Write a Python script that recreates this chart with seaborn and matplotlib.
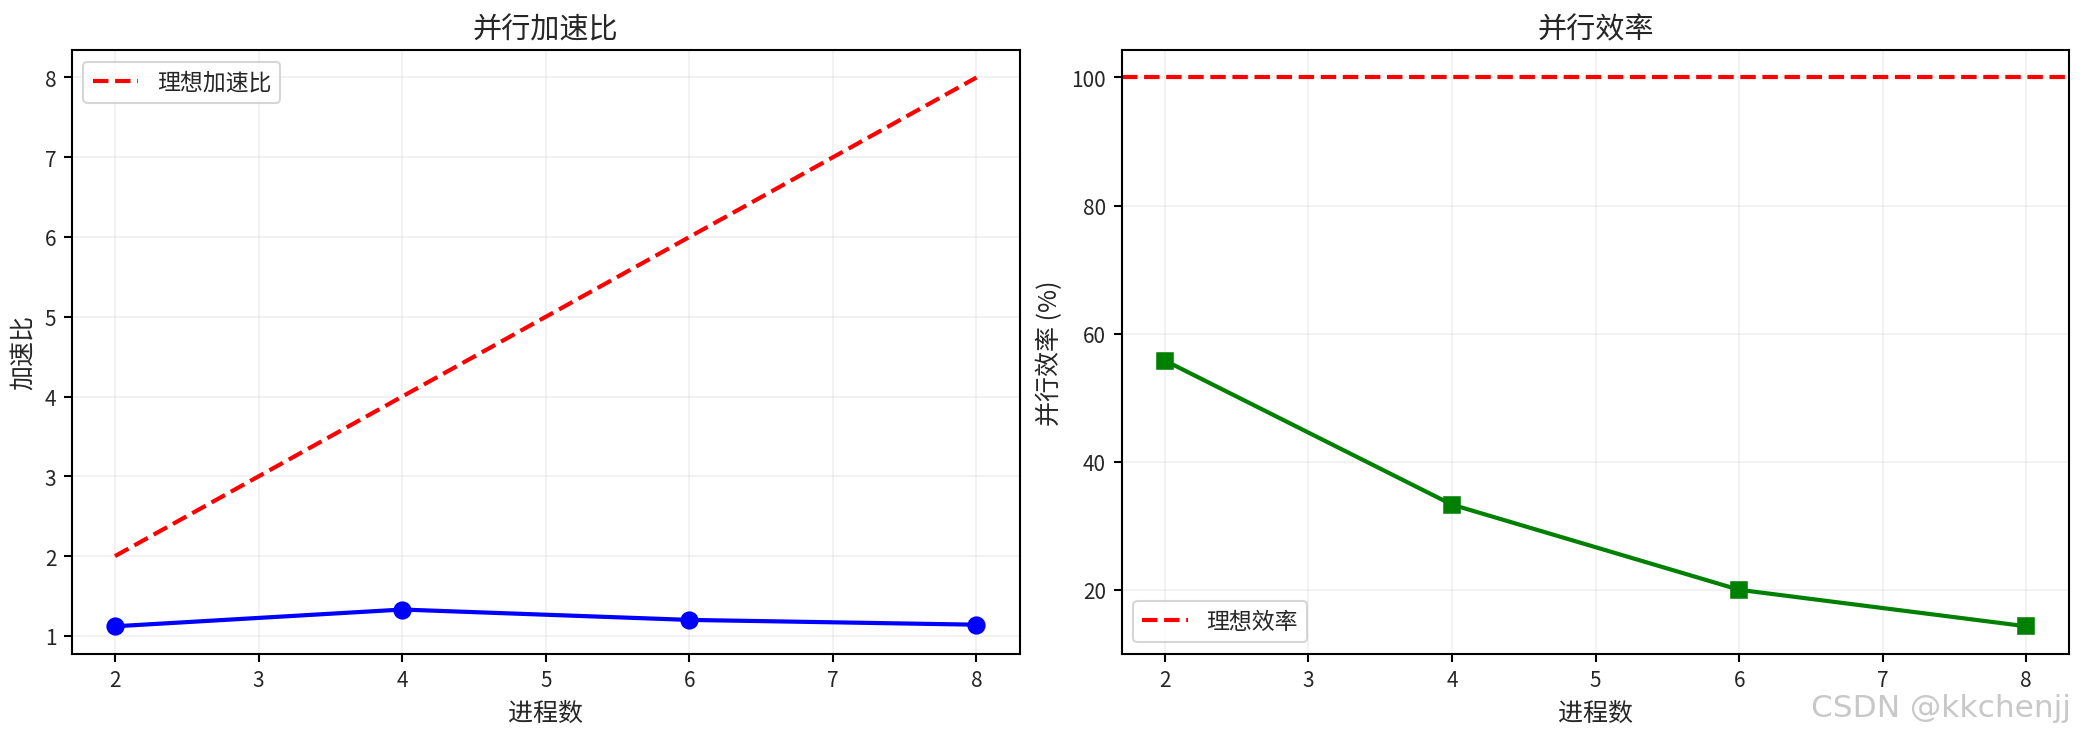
import numpy as np
import pandas as pd
import matplotlib
matplotlib.use("Agg")
import matplotlib.pyplot as plt
import seaborn as sns

# data
processes = [2, 4, 6, 8]
speedup = [1.12, 1.33, 1.20, 1.14]
ideal_speedup = [2, 4, 6, 8]
efficiency = [55.8, 33.3, 20.0, 14.3]
ideal_efficiency = 100

sns.set_style("white")
plt.rcParams['font.family'] = ['Noto Sans CJK SC', 'DejaVu Sans']
plt.rcParams['axes.unicode_minus'] = False

df = pd.DataFrame({"p": processes, "speedup": speedup,
                   "ideal": ideal_speedup, "eff": efficiency})

fig = plt.figure(figsize=(13.9, 4.893), dpi=150)
ax1 = fig.add_axes([0.0345, 0.108, 0.4545, 0.8225])
ax2 = fig.add_axes([0.538, 0.108, 0.4545, 0.8225])

for ax in (ax1, ax2):
    for s in ax.spines.values():
        s.set_color("black")
        s.set_linewidth(1.0)
    ax.tick_params(axis="both", which="both", length=4, width=1, color="black",
                   labelsize=10, left=True, bottom=True)

# speedup
sns.lineplot(data=df, x="p", y="speedup", ax=ax1, color="blue", linewidth=2,
             marker="o", markersize=8, markeredgecolor="blue", legend=False)
sns.lineplot(data=df, x="p", y="ideal", ax=ax1, color="red", linewidth=2,
             linestyle="--", label="理想加速比")
ax1.set_title("并行加速比", fontsize=14)
ax1.set_xlabel("进程数", fontsize=12)
ax1.set_ylabel("加速比", fontsize=12)
ax1.grid(True, alpha=0.3)
ax1.legend(loc="upper left", fontsize=11)

# efficiency
sns.lineplot(data=df, x="p", y="eff", ax=ax2, color="green", linewidth=2,
             marker="s", markersize=8, markeredgecolor="green", legend=False)
ax2.axhline(y=ideal_efficiency, color="red", linestyle="--", linewidth=2, label="理想效率")
ax2.set_title("并行效率", fontsize=14)
ax2.set_xlabel("进程数", fontsize=12)
ax2.set_ylabel("并行效率 (%)", fontsize=12)
ax2.grid(True, alpha=0.3)
ax2.legend(loc="lower left", fontsize=11)

fig.text(0.993, 0.015, "CSDN @kkchenjj", ha="right", va="bottom", fontsize=15,
         color="#c8c8c8", family=['DejaVu Sans'])

fig.savefig("out.png", dpi=150)
